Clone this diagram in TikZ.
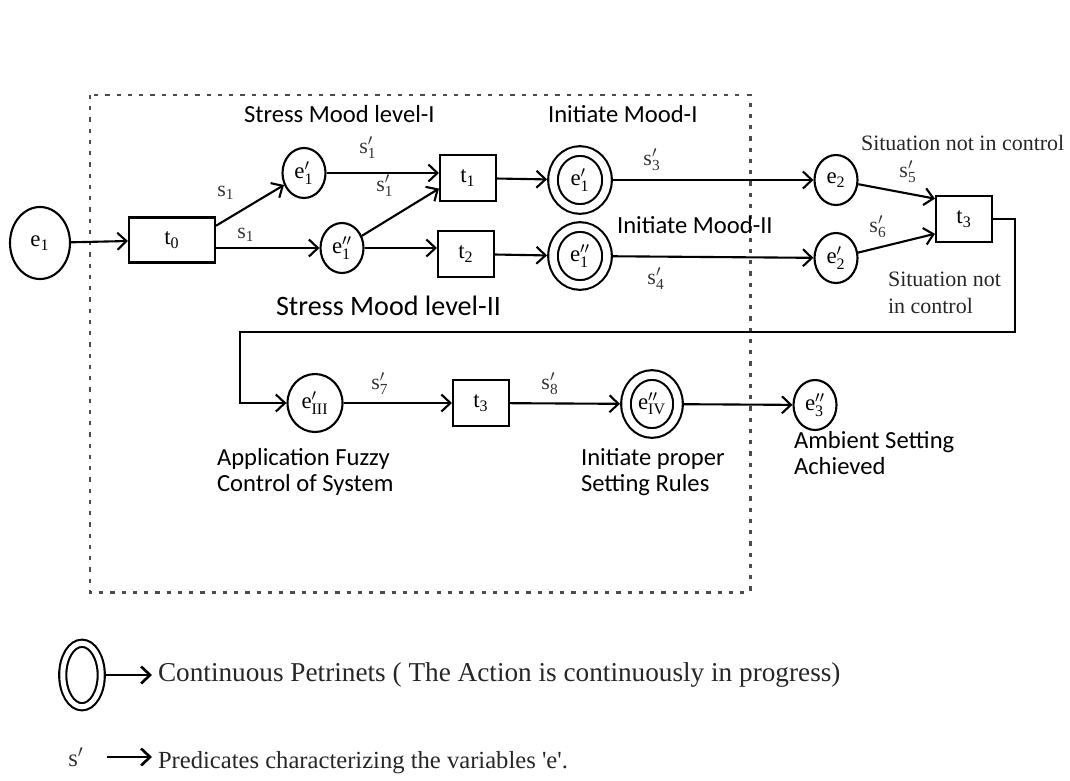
\documentclass[tikz,border=0pt]{standalone}
\usepackage{fontspec}
\setmainfont{Liberation Serif}
\newfontfamily\notefont{Carlito}
\usepackage{tikz}
\usetikzlibrary{shapes.geometric, arrows, arrows.meta, positioning}

% place / transition label: letter, primes, index
\newcommand{\pn}[3]{$\mathrm{#1}#2_{\mathrm{#3}}$}

\begin{document}
\begin{tikzpicture}[x=0.2mm,y=-0.2mm,>={Straight Barb[length=1.8mm,width=3.4mm]},line width=1.2pt,
    place/.style={ellipse,draw,inner sep=0pt,minimum width=8.6mm,minimum height=10mm,font=\fontsize{13}{13}\selectfont},
    cplace/.style={ellipse,draw,double,double distance=1.5mm,inner sep=0pt,outer sep=1.2mm,minimum width=10.8mm,minimum height=11.6mm,font=\fontsize{13}{13}\selectfont},
    trans/.style={rectangle,draw,inner sep=0pt,minimum width=11.2mm,minimum height=9.2mm,font=\fontsize{13}{13}\selectfont},
    pred/.style={inner sep=0pt,font=\fontsize{12.5}{12.5}\selectfont,black!80},
    note/.style={anchor=west,align=left,inner sep=0pt,font=\notefont\fontsize{14}{14.5}\selectfont},
    serifnote/.style={anchor=west,align=left,inner sep=0pt,font=\fontsize{12.5}{15}\selectfont,black!85},
    frame/.style={dash pattern=on 2.4pt off 4pt,line width=1.7pt,black!70}]
  \useasboundingbox (0,0) rectangle (1070,780);

  \draw[frame] (90,95) rectangle (750,592);

  % places and transitions
  \node[place,minimum width=12mm,minimum height=14.4mm] (e1) at (40,243) {\pn{e}{}{1}};
  \node[trans,minimum width=17.2mm,minimum height=9mm] (t0) at (172,240) {\pn{t}{}{0}};
  \node[place] (e1p) at (304,173) {\pn{e}{'}{1}};
  \node[place] (e1pp) at (342,248) {\pn{e}{''}{1}};
  \node[trans] (t1) at (468,178) {\pn{t}{}{1}};
  \node[trans] (t2) at (466,254) {\pn{t}{}{2}};
  \node[cplace] (c1p) at (580,180) {\pn{e}{'}{1}};
  \node[cplace] (c1pp) at (580,256) {\pn{e}{''}{1}};
  \node[place] (e2) at (836,180) {\pn{e}{}{2}};
  \node[place] (e2p) at (836,258) {\pn{e}{'}{2}};
  \node[trans] (t3a) at (964,219) {\pn{t}{}{3}};
  \node[place,minimum width=11mm,minimum height=11.6mm] (e3p) at (315,403) {\pn{e}{'}{III}};
  \node[trans] (t3b) at (481,403) {\pn{t}{}{3}};
  \node[cplace,minimum width=10.4mm] (c4pp) at (652,404) {\pn{e}{''}{IV}};
  \node[place] (e3pp) at (815,405) {\pn{e}{''}{3}};

  \coordinate (loopR) at (1015,332);
  \coordinate (loopL) at (240,332);

  \begin{scope}[every edge/.style={draw,->}]
    \path (e1) edge (t0);
    \path (t0.18) edge (e1p);
    \path (t0.east |- e1pp) edge (e1pp);
    \path (e1p) edge (e1p -| t1.west);
    \path (e1pp) edge (t1.200);
    \path (e1pp) edge (e1pp -| t2.west);
    \path (t1) edge (c1p);
    \path (t2) edge (c1pp);
    \path (c1p) edge (e2);
    \path (c1pp) edge (e2p);
    \path (e2) edge (t3a.145);
    \path (e2p) edge (t3a.207);
    \path (e3p) edge (t3b);
    \path (t3b) edge (c4pp);
    \path (c4pp) edge (e3pp);
  \end{scope}
  \draw[->] (t3a.east) -| (loopR) -- (loopL) |- (e3p);

  % predicates
  \node[pred] (ls1a) at (226,193) {\pn{s}{}{1}};
  \node[pred] (ls1b) at (246,235) {\pn{s}{}{1}};
  \node[pred] (ls1c) at (368,148) {\pn{s}{'}{1}};
  \node[pred] (ls1d) at (385,186) {\pn{s}{'}{1}};
  \node[pred] (ls3) at (652,160) {\pn{s}{'}{3}};
  \node[pred] (ls4) at (656,279) {\pn{s}{'}{4}};
  \node[pred] (ls5) at (908,172) {\pn{s}{'}{5}};
  \node[pred] (ls6) at (878,227) {\pn{s}{'}{6}};
  \node[pred] (ls7) at (380,384) {\pn{s}{'}{7}};
  \node[pred] (ls8) at (550,384) {\pn{s}{'}{8}};

  % notes
  \node[note] (nStress1) at (243,114) {Stress Mood level-I};
  \node[note] (nInit1) at (547,114) {Initiate Mood-I};
  \node[note] (nInit2) at (616,225) {Initiate Mood-II};
  \node[note,font=\notefont\fontsize{16}{18}\selectfont] (nStress2) at (275,306) {Stress Mood level-II};
  \node[note] (nFuzzy) at (216,472) {Application Fuzzy\\Control of System};
  \node[note] (nRules) at (580,472) {Initiate proper\\Setting Rules};
  \node[note] (nAmbient) at (793,453) {Ambient Setting\\Achieved};
  \node[serifnote] (nSit1) at (860,143) {Situation not in control};
  \node[serifnote] (nSit2) at (887,293) {Situation not\\in control};

  % legend
  \node[cplace,double distance=1mm,outer sep=0.9mm,minimum width=7.7mm,minimum height=12.7mm] (legC) at (82,675) {};
  \node[serifnote,font=\fontsize{15.5}{16}\selectfont] (legCtext) at (157,675) {Continuous Petrinets ( The Action is continuously in progress)};
  \draw[->,line width=1.5pt,shorten >=1mm] (legC) -- (legCtext);
  \node[pred,font=\fontsize{14}{14}\selectfont] (legS) at (76,757) {$\mathrm{s}'$};
  \node[serifnote,font=\fontsize{14}{15}\selectfont] (legStext) at (157,763) {Predicates characterizing the variables \textquotesingle e\textquotesingle.};
  \draw[->,line width=1.5pt,shorten <=4.5mm,shorten >=1mm] (legS) -- (legS -| legStext.west);
\end{tikzpicture}
\end{document}
